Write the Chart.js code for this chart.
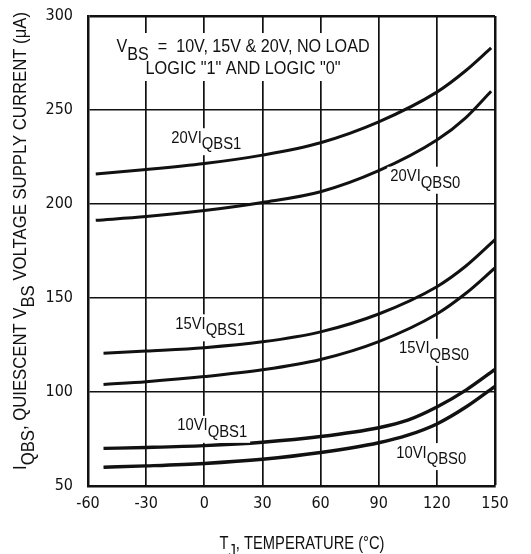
<!DOCTYPE html>
<html>
<head>
<meta charset="utf-8">
<script src="https://cdn.jsdelivr.net/npm/chart.js@4"></script>
<style>
html,body{margin:0;padding:0;background:#fff;}
#wrap{position:relative;width:531px;height:554px;}
</style>
</head>
<body>
<div id="wrap"><canvas id="c" width="531" height="554"></canvas></div>
<script>
// ---- data ----
const xTicks = [-60, -30, 0, 30, 60, 90, 120, 150];
const yTicks = [50, 100, 150, 200, 250, 300];

const temps20 = [-56, -30, 0, 30, 60, 90, 120, 135, 148];
const i20QBS1 = [216, 218.3, 221.5, 226, 232.6, 243.7, 259.5, 271, 283];
const i20QBS0 = [191.3, 193.3, 196.5, 200.8, 206.5, 217.7, 234, 246, 260];

const temps15 = [-52, -30, 0, 30, 60, 90, 120, 135, 150];
const i15QBS1 = [120.6, 121.8, 123.6, 126.7, 132, 141.5, 156, 167, 181];
const i15QBS0 = [104, 105.5, 108.2, 111.8, 117.3, 126.8, 141.5, 152.5, 166];

const temps10 = [-52, -30, 0, 30, 60, 90, 105, 120, 135, 150];
const i10QBS1 = [70, 70.5, 71.5, 73.3, 76.3, 81, 85, 92, 101, 112];
const i10QBS0 = [60, 60.7, 62, 64.2, 67.8, 73, 77, 83, 92, 103];

const seriesNames = ['20VIQBS1', '20VIQBS0', '15VIQBS1', '15VIQBS0', '10VIQBS1', '10VIQBS0'];

function pts(xs, ys) { return xs.map((x, i) => ({x: x, y: ys[i]})); }

const FONT = '"Liberation Sans", Arial, sans-serif';
const TICKFONT = '"DejaVu Sans Condensed", "Liberation Sans", Arial, sans-serif';

// Text labels placed in data coordinates
const curveLabels = [
  {main: '20VI', sub: 'QBS1', x: -17, y: 235},
  {main: '20VI', sub: 'QBS0', x: 96, y: 214.5},
  {main: '15VI', sub: 'QBS1', x: -15, y: 136},
  {main: '15VI', sub: 'QBS0', x: 100.5, y: 123},
  {main: '10VI', sub: 'QBS1', x: -14, y: 82},
  {main: '10VI', sub: 'QBS0', x: 99, y: 67.5}
];

// draw text made of normal/subscript parts, horizontally scaled to a target width
function drawRich(ctx, parts, x, y, size, align, targetW, bg) {
  ctx.save();
  ctx.font = size + 'px ' + FONT;
  let w = 0;
  parts.forEach(p => { w += ctx.measureText(p.t).width; });
  const sx = targetW ? targetW / w : 1;
  const tw = w * sx;
  const left = align === 'center' ? x - tw / 2 : x;
  if (bg) {
    ctx.fillStyle = '#fff';
    ctx.fillRect(left - bg[0], y - bg[1], tw + 2 * bg[0], bg[1] + bg[2]);
  }
  ctx.fillStyle = '#111';
  ctx.translate(left, y);
  ctx.scale(sx, 1);
  ctx.textAlign = 'left';
  ctx.textBaseline = 'middle';
  let cx = 0;
  parts.forEach(p => {
    ctx.fillText(p.t, cx, p.sub ? size * 0.42 : 0);
    cx += ctx.measureText(p.t).width;
  });
  ctx.restore();
}

const textPlugin = {
  id: 'texts',
  afterDraw(chart) {
    const ctx = chart.ctx;
    const xs = chart.scales.x, ys = chart.scales.y;
    // curve labels
    curveLabels.forEach(l => {
      drawRich(ctx, [{t: l.main}, {t: l.sub, sub: true}], xs.getPixelForValue(l.x), ys.getPixelForValue(l.y),
        16, 'left', 70, [3, 10, 17]);
    });
    // conditions annotation
    const cx = xs.getPixelForValue(20);
    const y1 = ys.getPixelForValue(283.5), y2 = ys.getPixelForValue(271.8);
    ctx.save();
    ctx.fillStyle = '#fff';
    ctx.fillRect(cx - 130, y1 - 14, 260, (y2 - y1) + 26);
    ctx.restore();
    drawRich(ctx, [{t: 'V'}, {t: 'BS', sub: true}, {t: '  =  10V, 15V & 20V, NO LOAD'}], cx, y1, 18, 'center', 253);
    drawRich(ctx, [{t: 'LOGIC "1" AND LOGIC "0"'}], cx, y2, 18, 'center', 195);
    // x title
    drawRich(ctx, [{t: 'T'}, {t: 'J', sub: true}, {t: ', TEMPERATURE (°C)'}], 302, 544, 18, 'center', 165);
    // y title (rotated)
    ctx.save();
    ctx.translate(21, 241);
    ctx.rotate(-Math.PI / 2);
    drawRich(ctx, [{t: 'I'}, {t: 'QBS', sub: true}, {t: ', QUIESCENT V'}, {t: 'BS', sub: true}, {t: ' VOLTAGE SUPPLY CURRENT (μA)'}],
      0, 0, 18, 'center', 458);
    ctx.restore();
  }
};

const lineStyle = {
  borderColor: '#111',
  borderWidth: 3,
  pointRadius: 0,
  fill: false,
  cubicInterpolationMode: 'monotone',
  showLine: true
};

new Chart(document.getElementById('c'), {
  type: 'scatter',
  data: {
    datasets: [
      Object.assign({label: seriesNames[0], data: pts(temps20, i20QBS1)}, lineStyle),
      Object.assign({label: seriesNames[1], data: pts(temps20, i20QBS0)}, lineStyle),
      Object.assign({label: seriesNames[2], data: pts(temps15, i15QBS1)}, lineStyle),
      Object.assign({label: seriesNames[3], data: pts(temps15, i15QBS0)}, lineStyle),
      Object.assign({label: seriesNames[4], data: pts(temps10, i10QBS1)}, lineStyle, {borderWidth: 3.4}),
      Object.assign({label: seriesNames[5], data: pts(temps10, i10QBS0)}, lineStyle, {borderWidth: 3.4})
    ]
  },
  options: {
    responsive: false,
    animation: false,
    layout: {padding: {left: 0, top: 16, right: 36, bottom: 0}},
    plugins: {legend: {display: false}, tooltip: {enabled: false}},
    scales: {
      x: {
        type: 'linear',
        min: -60, max: 150,
        afterBuildTicks: s => { s.ticks = xTicks.map(v => ({value: v})); },
        afterFit: s => { s.height = 68; s.paddingLeft = 0; s.paddingRight = 0; },
        ticks: {color: '#111', font: {family: TICKFONT, size: 16}, padding: 8, maxRotation: 0},
        grid: {color: '#111', drawTicks: false, lineWidth: c => (c.tick && c.tick.value === 150 ? 2.5 : 1.7)},
        border: {display: true, color: '#111', width: 2.5}
      },
      y: {
        type: 'linear',
        min: 50, max: 300,
        afterBuildTicks: s => { s.ticks = yTicks.map(v => ({value: v})); },
        afterFit: s => { s.width = 88; s.paddingTop = 0; s.paddingBottom = 0; },
        ticks: {color: '#111', font: {family: TICKFONT, size: 16}, padding: 15},
        grid: {color: '#111', drawTicks: false, lineWidth: c => (c.tick && c.tick.value === 300 ? 2.5 : 1.6)},
        border: {display: true, color: '#111', width: 2.5}
      }
    }
  },
  plugins: [textPlugin]
});
</script>
</body>
</html>
